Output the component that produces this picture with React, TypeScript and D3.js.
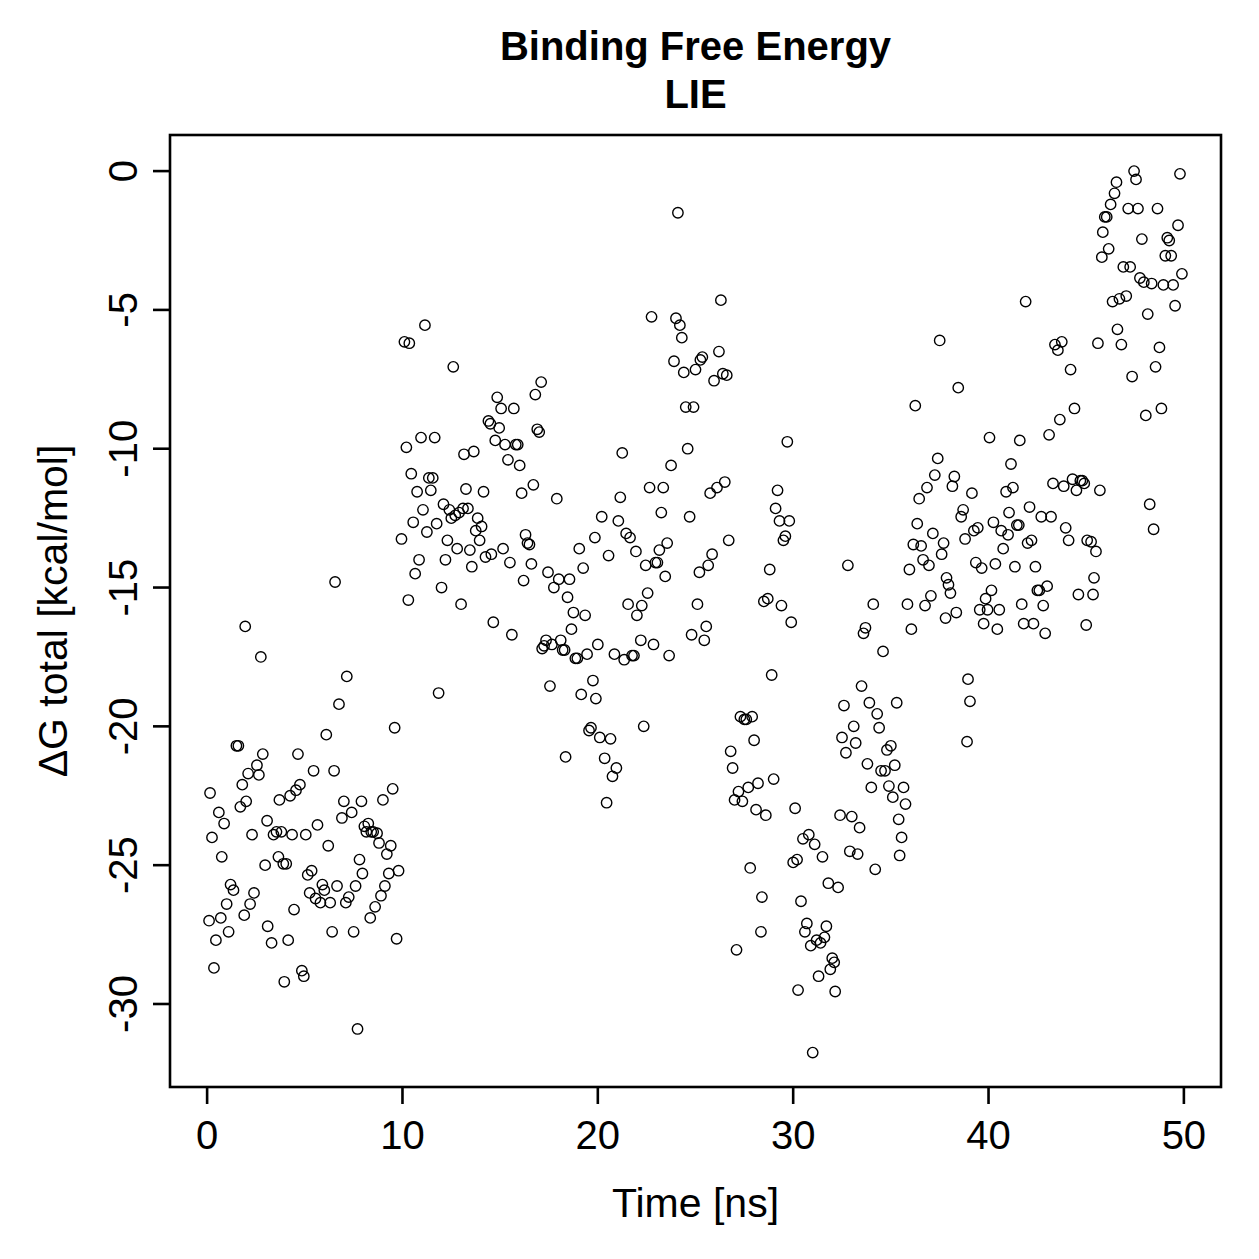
import React from "react";
import * as d3 from "d3";

// [time (ns), dG total (kcal/mol)]
const segA: [number, number][] = [
  [0.1, -27.0], [0.15, -22.4], [0.25, -24.0], [0.35, -28.7], [0.45, -27.7], [0.6, -23.1], [0.7, -26.9], [0.75, -24.7], [0.87, -23.5], [1.0, -26.4],
  [1.1, -27.4], [1.2, -25.7], [1.35, -25.9], [1.5, -20.7], [1.6, -20.7], [1.7, -22.9], [1.8, -22.1], [1.9, -26.8], [1.95, -16.4], [2.0, -22.7],
  [2.1, -21.7], [2.2, -26.4], [2.3, -23.9], [2.4, -26.0], [2.55, -21.4], [2.65, -21.75], [2.75, -17.5], [2.85, -21.0], [2.97, -25.0], [3.07, -23.4],
  [3.1, -27.2], [3.3, -27.8], [3.4, -23.9], [3.55, -23.8], [3.65, -24.7], [3.7, -22.65], [3.8, -23.8], [3.9, -24.95], [3.95, -29.2], [4.05, -24.95],
  [4.15, -27.7], [4.25, -22.5], [4.35, -23.9], [4.45, -26.6], [4.55, -22.3], [4.65, -21.0], [4.75, -22.1], [4.85, -28.8], [4.95, -29.0], [5.05, -23.9],
  [5.15, -25.35], [5.25, -26.0], [5.35, -25.2], [5.45, -21.6], [5.55, -26.2], [5.65, -23.55], [5.8, -26.35], [5.9, -25.7], [6.0, -25.9], [6.1, -20.3],
  [6.2, -24.3], [6.3, -26.35], [6.4, -27.4], [6.5, -21.6], [6.55, -14.8], [6.65, -25.75], [6.75, -19.2], [6.9, -23.3], [7.0, -22.7], [7.1, -26.35],
  [7.15, -18.2], [7.25, -26.15], [7.4, -23.1], [7.5, -27.4], [7.6, -25.75], [7.7, -30.9], [7.8, -24.8], [7.9, -22.7], [7.95, -25.3], [8.05, -23.6],
  [8.15, -23.8], [8.25, -23.5], [8.35, -26.9], [8.4, -23.8], [8.5, -23.8], [8.6, -26.5], [8.7, -23.85], [8.8, -24.2], [8.9, -26.1], [9.0, -22.65],
  [9.1, -25.75], [9.2, -24.6], [9.3, -25.3], [9.4, -24.3], [9.5, -22.25], [9.6, -20.05], [9.7, -27.65], [9.8, -25.2],
];

const segB: [number, number][] = [
  [9.95, -13.25], [10.1, -6.15], [10.2, -9.95], [10.3, -15.45], [10.35, -6.2], [10.45, -10.9], [10.55, -12.65], [10.65, -14.5], [10.75, -11.55], [10.85, -14.0],
  [10.95, -9.6], [11.05, -12.2], [11.15, -5.55], [11.25, -13.0], [11.35, -11.05], [11.45, -11.5], [11.55, -11.05], [11.65, -9.6], [11.75, -12.7], [11.85, -18.8],
  [12.0, -15.0], [12.1, -12.0], [12.2, -14.0], [12.3, -13.3], [12.4, -12.2], [12.5, -12.5], [12.6, -7.05], [12.7, -12.4], [12.8, -13.6], [12.9, -12.3],
  [13.0, -15.6], [13.1, -12.15], [13.15, -10.2], [13.25, -11.45], [13.35, -12.15], [13.45, -13.65], [13.55, -14.25], [13.65, -10.1], [13.75, -12.95], [13.85, -12.5],
  [13.95, -13.3], [14.05, -12.8], [14.15, -11.55], [14.25, -13.9], [14.4, -9.0], [14.5, -9.1], [14.55, -13.8], [14.65, -16.25], [14.75, -9.7], [14.85, -8.15],
  [14.95, -9.25], [15.05, -8.55], [15.15, -13.6], [15.25, -9.85], [15.4, -10.4], [15.5, -14.1], [15.6, -16.7], [15.7, -8.55], [15.8, -9.85], [15.9, -9.85],
  [16.0, -10.6], [16.1, -11.6], [16.2, -14.75], [16.3, -13.1], [16.4, -13.4], [16.5, -13.45], [16.6, -14.15], [16.7, -11.3], [16.8, -8.05], [16.9, -9.3],
  [17.0, -9.4], [17.1, -7.6], [17.15, -17.2], [17.25, -17.1], [17.35, -16.9], [17.45, -14.45], [17.55, -18.55], [17.65, -17.05], [17.75, -15.0], [17.9, -11.8],
  [18.0, -14.7], [18.1, -16.9], [18.2, -17.25], [18.3, -17.25], [18.35, -21.1], [18.45, -15.35], [18.55, -14.7], [18.65, -16.5], [18.75, -15.9], [18.85, -17.55],
  [18.95, -17.55], [19.05, -13.6], [19.15, -18.85], [19.25, -14.3], [19.35, -16.0], [19.45, -17.4], [19.55, -20.15], [19.65, -20.05], [19.75, -18.35], [19.85, -13.2],
  [19.9, -19.0], [20.0, -17.05], [20.1, -20.4], [20.2, -12.45], [20.35, -21.15], [20.45, -22.75], [20.55, -13.85], [20.65, -20.45], [20.75, -21.8], [20.85, -17.4],
  [20.95, -21.5], [21.05, -12.6], [21.15, -11.75], [21.25, -10.15], [21.35, -17.6], [21.45, -13.05], [21.55, -15.6], [21.65, -13.2], [21.75, -17.45], [21.85, -17.45],
  [21.95, -13.7], [22.0, -16.0], [22.2, -16.9], [22.25, -15.65], [22.35, -20.0], [22.45, -14.2], [22.55, -15.2], [22.65, -11.4], [22.75, -5.25], [22.85, -17.05],
  [22.95, -14.1], [23.05, -14.1], [23.15, -13.65], [23.25, -12.3], [23.35, -11.4], [23.45, -14.6], [23.55, -13.4], [23.65, -17.45], [23.75, -10.6], [23.9, -6.85],
  [24.0, -5.3], [24.1, -1.5], [24.2, -5.55], [24.3, -6.0], [24.4, -7.25], [24.5, -8.5], [24.6, -10.0], [24.7, -12.45], [24.8, -16.7], [24.9, -8.5],
  [25.0, -7.15], [25.1, -15.6], [25.2, -14.45], [25.25, -6.8], [25.35, -6.7], [25.45, -16.9], [25.55, -16.4], [25.65, -14.2], [25.75, -11.6], [25.85, -13.8],
  [25.95, -7.55], [26.1, -11.4], [26.2, -6.5], [26.3, -4.65], [26.4, -7.3], [26.5, -11.2], [26.6, -7.35], [26.7, -13.3],
];

const segC: [number, number][] = [
  [26.8, -20.9], [26.9, -21.5], [27.0, -22.65], [27.1, -28.05], [27.2, -22.35], [27.3, -19.65], [27.4, -22.7], [27.5, -19.75], [27.6, -19.75], [27.7, -22.2],
  [27.8, -25.1], [27.9, -19.65], [28.0, -20.5], [28.1, -23.0], [28.2, -22.05], [28.35, -27.4], [28.4, -26.15], [28.5, -15.5], [28.6, -23.2], [28.7, -15.4],
  [28.8, -14.35], [28.9, -18.15], [29.0, -21.9], [29.1, -12.15], [29.2, -11.5], [29.3, -12.6], [29.4, -15.65], [29.5, -13.3], [29.6, -13.15], [29.7, -9.75],
  [29.8, -12.6], [29.9, -16.25], [30.0, -24.9], [30.1, -22.95], [30.2, -24.8], [30.25, -29.5], [30.4, -26.3], [30.5, -24.05], [30.6, -27.4], [30.7, -27.1],
  [30.8, -23.9], [30.9, -27.9], [31.0, -31.75], [31.1, -24.25], [31.2, -27.7], [31.3, -29.0], [31.4, -27.8], [31.5, -24.7], [31.6, -27.6], [31.7, -27.2],
  [31.8, -25.65], [31.9, -28.75], [32.0, -28.35], [32.1, -28.5], [32.15, -29.55], [32.3, -25.8], [32.4, -23.2], [32.5, -20.4], [32.6, -19.25], [32.7, -20.95],
  [32.8, -14.2], [32.9, -24.5], [33.0, -23.25], [33.1, -20.0], [33.2, -20.6], [33.3, -24.6], [33.4, -23.65], [33.5, -18.55], [33.6, -16.65], [33.7, -16.45],
  [33.8, -21.35], [33.9, -19.15], [34.0, -22.2], [34.1, -15.6], [34.2, -25.15], [34.3, -19.55], [34.4, -20.05], [34.5, -21.6], [34.6, -17.3], [34.7, -21.6],
  [34.8, -20.85], [34.9, -22.15], [35.0, -20.7], [35.1, -22.55], [35.2, -21.4], [35.3, -19.15], [35.4, -23.35], [35.45, -24.65], [35.55, -24.0], [35.65, -22.2],
  [35.75, -22.8],
];

const segD: [number, number][] = [
  [35.85, -15.6], [35.95, -14.35], [36.05, -16.5], [36.15, -13.45], [36.25, -8.45], [36.35, -12.7], [36.45, -11.8], [36.55, -13.5], [36.65, -14.0], [36.75, -15.65],
  [36.85, -11.4], [36.95, -14.2], [37.05, -15.3], [37.15, -13.05], [37.25, -10.95], [37.4, -10.35], [37.5, -6.1], [37.6, -13.8], [37.7, -13.4], [37.8, -16.1],
  [37.85, -14.65], [37.95, -14.9], [38.05, -15.2], [38.15, -11.35], [38.25, -11.0], [38.35, -15.9], [38.45, -7.8], [38.6, -12.45], [38.7, -12.2], [38.8, -13.25],
  [38.9, -20.55], [38.95, -18.3], [39.05, -19.1], [39.15, -11.6], [39.25, -12.95], [39.35, -14.1], [39.45, -12.85], [39.55, -15.8], [39.65, -14.3], [39.75, -16.3],
  [39.85, -15.4], [39.95, -15.8], [40.05, -9.6], [40.15, -15.1], [40.25, -12.65], [40.35, -14.15], [40.45, -16.5], [40.55, -15.8], [40.65, -12.95], [40.75, -13.6],
  [40.9, -11.55], [41.0, -13.1], [41.05, -12.3], [41.15, -10.55], [41.25, -11.4], [41.35, -14.25], [41.45, -12.75], [41.55, -12.75], [41.6, -9.7], [41.7, -15.6],
  [41.8, -16.3], [41.9, -4.7], [42.0, -13.4], [42.1, -12.1], [42.2, -13.3], [42.3, -16.3], [42.4, -14.25], [42.5, -15.1], [42.6, -15.1], [42.7, -12.45],
  [42.8, -15.65], [42.9, -16.65], [43.0, -14.95], [43.1, -9.5], [43.2, -12.45], [43.3, -11.25], [43.4, -6.25], [43.55, -6.45], [43.65, -8.95], [43.75, -6.15],
  [43.85, -11.35], [43.95, -12.85], [44.1, -13.3], [44.2, -7.15], [44.3, -11.1], [44.4, -8.55], [44.5, -11.5], [44.6, -15.25], [44.7, -11.15], [44.8, -11.15],
  [44.9, -11.25], [45.0, -16.35], [45.05, -13.3], [45.25, -13.35], [45.35, -15.25], [45.4, -14.65], [45.5, -13.7], [45.6, -6.2], [45.7, -11.5],
];

const segE: [number, number][] = [
  [45.8, -3.1], [45.85, -2.2], [45.95, -1.65], [46.05, -1.65], [46.15, -2.8], [46.25, -1.2], [46.35, -4.7], [46.45, -0.8], [46.55, -0.4], [46.6, -5.7],
  [46.7, -4.6], [46.8, -6.25], [46.9, -3.45], [47.05, -4.5], [47.15, -1.35], [47.25, -3.45], [47.35, -7.4], [47.45, 0.0], [47.55, -0.3], [47.65, -1.35],
  [47.75, -3.85], [47.85, -2.45], [47.95, -4.0], [48.05, -8.8], [48.15, -5.15], [48.25, -12.0], [48.35, -4.05], [48.45, -12.9], [48.55, -7.05], [48.65, -1.35],
  [48.75, -6.35], [48.85, -8.55], [48.95, -4.1], [49.05, -3.05], [49.15, -2.4], [49.25, -2.5], [49.35, -3.05], [49.45, -4.1], [49.55, -4.85], [49.7, -1.95],
  [49.8, -0.1], [49.9, -3.7],
];

const xTicks = [0, 10, 20, 30, 40, 50];
const yTicks = [0, -5, -10, -15, -20, -25, -30];
const titleLines = ["Binding Free Energy", "LIE"];
const xLabel = "Time [ns]";
const yLabel = "ΔG total [kcal/mol]";

export default function App() {
  const W = 1259;
  const H = 1259;
  const left = 170, right = 1221, top = 135, bottom = 1087;
  const x = d3.scaleLinear().domain([-1.9, 51.9]).range([left, right]);
  const y = d3.scaleLinear().domain([-32.99, 1.3]).range([bottom, top]);
  const pts = [...segA, ...segB, ...segC, ...segD, ...segE];
  const font = "'Liberation Sans', Arial, Helvetica, sans-serif";
  const cx = (left + right) / 2;
  const cy = (top + bottom) / 2;

  return (
    <svg
      width={W}
      height={H}
      style={{ position: "absolute", left: 0, top: 0, background: "#fff" }}
      fontFamily={font}
    >
      <rect x={0} y={0} width={W} height={H} fill="#fff" />
      <text x={cx} y={60} textAnchor="middle" fontSize={40} fontWeight="bold">{titleLines[0]}</text>
      <text x={cx} y={108} textAnchor="middle" fontSize={40} fontWeight="bold">{titleLines[1]}</text>

      {pts.map(([t, v], i) => (
        <circle key={i} cx={x(t)} cy={y(v)} r={5.2} fill="none" stroke="#000" strokeWidth={1.4} />
      ))}

      <rect x={left} y={top} width={right - left} height={bottom - top} fill="none" stroke="#000" strokeWidth={2.6} />

      {xTicks.map((t) => (
        <g key={"x" + t}>
          <line x1={x(t)} x2={x(t)} y1={bottom} y2={bottom + 17} stroke="#000" strokeWidth={2.6} />
          <text x={x(t)} y={1149} textAnchor="middle" fontSize={40}>{t}</text>
        </g>
      ))}

      {yTicks.map((v) => (
        <g key={"y" + v}>
          <line x1={left} x2={left - 17} y1={y(v)} y2={y(v)} stroke="#000" strokeWidth={2.6} />
          <text transform={`translate(137,${y(v)}) rotate(-90)`} textAnchor="middle" fontSize={40}>{v}</text>
        </g>
      ))}

      <text x={cx} y={1217} textAnchor="middle" fontSize={41}>{xLabel}</text>
      <text transform={`translate(67,${cy}) rotate(-90)`} textAnchor="middle" fontSize={41}>{yLabel}</text>
    </svg>
  );
}
